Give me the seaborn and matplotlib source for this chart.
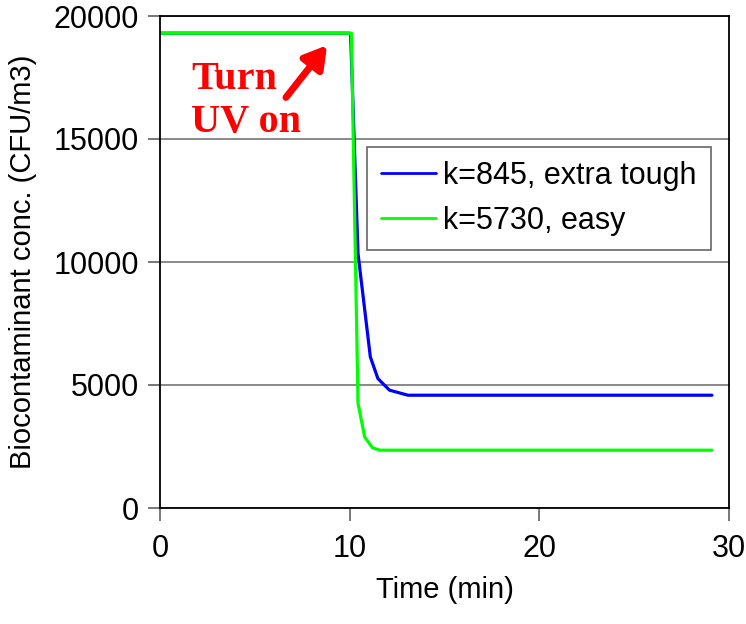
import matplotlib
matplotlib.use("Agg")
import matplotlib.pyplot as plt
import seaborn as sns
import pandas as pd

# Data
t_tough = [0, 10.0, 10.05, 10.44, 11.09, 11.49, 12.1, 13.07, 29.1]
c_tough = [19300, 19300, 19250, 10345, 6140, 5260, 4790, 4585, 4585]
t_easy = [0, 9.95, 10.09, 10.44, 10.79, 11.2, 11.6, 29.1]
c_easy = [19300, 19300, 19300, 4260, 2890, 2450, 2350, 2350]
labels = ["k=845, extra tough", "k=5730, easy"]
colors = ["#0000FF", "#00FF00"]

df = pd.concat([
    pd.DataFrame({"Time": t_tough, "Conc": c_tough, "Series": labels[0]}),
    pd.DataFrame({"Time": t_easy, "Conc": c_easy, "Series": labels[1]}),
])

sns.set_theme(style="white")
plt.rcParams["font.family"] = ["Liberation Sans", "DejaVu Sans"]
plt.rcParams["text.color"] = "black"
plt.rcParams["axes.labelcolor"] = "black"

fig = plt.figure(figsize=(7.46, 6.24), dpi=100)
ax = fig.add_axes([160 / 746, 1 - 508 / 624, 569 / 746, 492 / 624])

sns.lineplot(data=df, x="Time", y="Conc", hue="Series", palette=colors,
             linewidth=2.3, ax=ax, sort=False, estimator=None)

ax.set_xlim(0, 30)
ax.set_ylim(0, 20000)
ax.set_xticks([0, 10, 20, 30])
ax.set_yticks([0, 5000, 10000, 15000, 20000])
ax.yaxis.grid(True, color="#808080", linewidth=1.3)
ax.xaxis.grid(False)
ax.set_axisbelow(True)
for s in ax.spines.values():
    s.set_color("black")
    s.set_linewidth(1.3)
ax.tick_params(axis="both", direction="out", length=9, width=1.2,
               bottom=True, left=True,
               colors="#606060", labelcolor="black", labelsize=22, pad=6)
ax.tick_params(axis="x", pad=10)
ax.set_xlabel("Time (min)", fontsize=21, labelpad=8)
ax.set_ylabel("Biocontaminant conc. (CFU/m3)", fontsize=21, labelpad=12)

leg = ax.legend(loc="upper left", bbox_to_anchor=(207 / 569, 1 - 131 / 492),
                fontsize=22, frameon=True, fancybox=False, handlelength=1.8,
                borderpad=0.45, labelspacing=0.5, handletextpad=0.25,
                borderaxespad=0)
leg.get_frame().set_edgecolor("#404040")
leg.get_frame().set_linewidth(1.2)
for line in leg.get_lines():
    line.set_linewidth(2.0)

ax.text(1.65, 16550, "Turn\nUV on", color="#FF0000", fontsize=29,
        fontweight="bold", family=["Liberation Serif", "DejaVu Serif"],
        ha="left", va="center", linespacing=1.2)
ax.annotate("", xy=(8.9, 18900), xytext=(6.55, 16600),
            arrowprops=dict(arrowstyle="-|>,head_length=1.1,head_width=0.65",
                            color="#FF0000", lw=5))

fig.savefig("out.png", dpi=100)
